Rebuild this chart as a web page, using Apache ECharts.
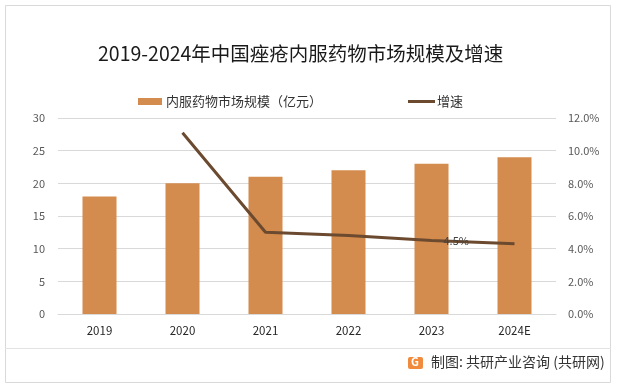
<!DOCTYPE html>
<html><head><meta charset="utf-8">
<script src="https://cdn.jsdelivr.net/npm/echarts@6/dist/echarts.min.js"></script>
<style>html,body{margin:0;padding:0;background:#fff}#c{width:618px;height:389px}</style>
</head><body><div id="c"></div>
<script>
const categories = ['2019','2020','2021','2022','2023','2024E'];
const marketSize = [18, 20, 21, 22, 23, 24];
const growthRate = [null, 11.1, 5.0, 4.8, 4.5, 4.3];
const leftTicks = [0,5,10,15,20,25,30];
const rightTickLabels = ['0.0%','2.0%','4.0%','6.0%','8.0%','10.0%','12.0%'];
const labelIndex = 4;

const FONT = '"Noto Sans CJK SC", "Noto Sans", sans-serif';
const chart = echarts.init(document.getElementById('c'), null, {renderer:'canvas'});
chart.setOption({
  backgroundColor:'#fff',
  animation:false,
  title:{text:'2019-2024年中国痤疮内服药物市场规模及增速', left:93, top:39,
    textStyle:{fontFamily:FONT, fontSize:19.5, fontWeight:'normal', color:'#1a1a1a'}},
  legend:[
    {data:[{name:'内服药物市场规模（亿元）', icon:'rect'}], left:133, top:90, itemWidth:24, itemHeight:7, itemGap:5,
      textStyle:{fontFamily:FONT, fontSize:13, color:'#333', padding:[0,0,0,-1]}},
    {data:[{name:'增速', icon:'rect'}], left:403, top:90, itemWidth:27, itemHeight:3,
      textStyle:{fontFamily:FONT, fontSize:13, color:'#333', padding:[0,0,0,-3]}}
  ],
  grid:{left:58, right:62, top:118, bottom:75},
  xAxis:{type:'category', data:categories,
    axisLine:{lineStyle:{color:'#d9d9d9'}}, axisTick:{show:false},
    axisLabel:{fontFamily:FONT, fontSize:11.5, color:'#262626', margin:11}},
  yAxis:[
    {type:'value', min:0, max:30, interval:5,
      axisLine:{show:false}, axisTick:{show:false},
      splitLine:{lineStyle:{color:'#d9d9d9'}},
      axisLabel:{fontFamily:FONT, fontSize:11, color:'#595959', margin:13}},
    {type:'value', min:0, max:12, interval:2,
      axisLine:{show:false}, axisTick:{show:false}, splitLine:{show:false},
      axisLabel:{fontFamily:FONT, fontSize:11, color:'#595959', margin:12,
        formatter:(v)=>rightTickLabels[Math.round(v/2)]}}
  ],
  series:[
    {name:'内服药物市场规模（亿元）', type:'bar', data:marketSize, barWidth:34,
      itemStyle:{color:'#D38B4E'}},
    {name:'增速', type:'line', yAxisIndex:1, symbol:'circle', symbolSize:0, showSymbol:true,
      data:growthRate.map((v,i)=> i===labelIndex ? {value:v, label:{show:true}} : v),
      lineStyle:{color:'#6B4A2F', width:3}, itemStyle:{color:'#6B4A2F'},
      label:{show:false, position:'right', distance:12, fontFamily:FONT, fontSize:11, color:'#404040',
        formatter:(p)=>Number(p.value).toFixed(1)+'%'}}
  ],
  graphic:[
    {type:'rect', shape:{x:5.5,y:5.5,width:605,height:377}, style:{fill:'none', stroke:'#d9d9d9', lineWidth:1}, silent:true},
    {type:'line', shape:{x1:5,y1:348.5,x2:611,y2:348.5}, style:{stroke:'#e3e3e3', lineWidth:1}, silent:true},
    {type:'rect', shape:{x:408,y:357,width:15,height:12,r:2}, style:{fill:'#F08A3C'}, silent:true},
    {type:'text', left:411, top:356, style:{text:'G', fill:'#fff', fontFamily:FONT, fontSize:11, fontWeight:'bold'}, silent:true},
    {type:'text', left:431, top:355, style:{text:'制图: 共研产业咨询 (共研网)', fill:'#333', fontFamily:FONT, fontSize:14}, silent:true}
  ]
});
</script></body></html>
